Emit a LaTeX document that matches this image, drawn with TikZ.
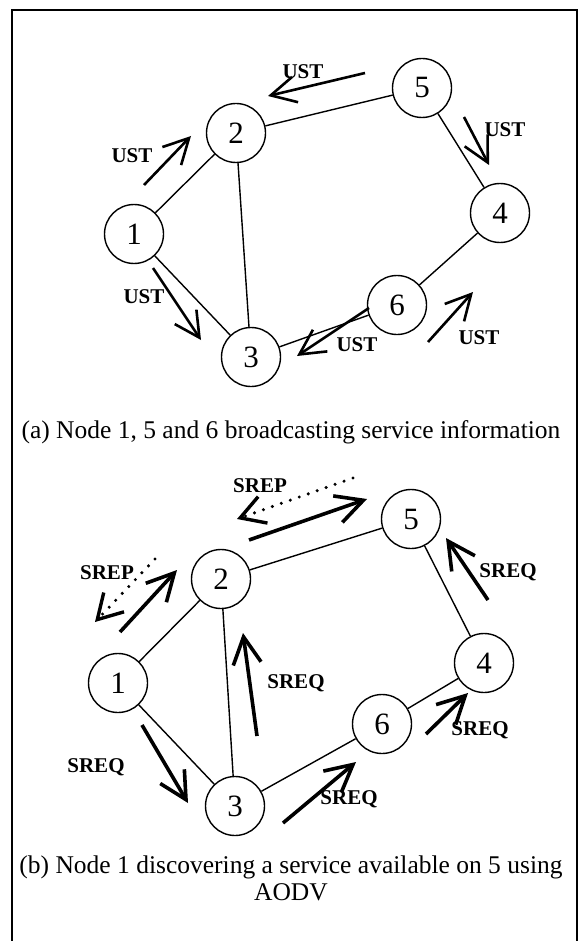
\documentclass[tikz,border=0pt]{standalone}
\usepackage{fontspec}
\setmainfont{Liberation Serif}
\usetikzlibrary{positioning,arrows.meta}

\begin{document}
\begin{tikzpicture}[x=1pt,y=1pt]
    \tikzstyle{station}=[circle,draw,line width=1.4pt,minimum size=59,inner sep=0,fill=white,font=\fontsize{31}{32}\selectfont]
    \tikzstyle{link}=[line width=1.4pt]
    \tikzstyle{note}=[draw=none,inner sep=0,font=\fontsize{21}{23}\selectfont\bfseries]
    \tikzstyle{caption}=[draw=none,inner sep=0,align=center,font=\fontsize{25.5}{27}\selectfont]
    \tikzstyle{msg}=[line width=2.6pt,-{Straight Barb[length=25pt,width=26pt]}]
    \tikzstyle{msgb}=[line width=3.6pt,-{Straight Barb[length=27pt,width=28pt]}]
    \tikzstyle{reply}=[line width=3.4pt,line cap=round,dash pattern=on 0pt off 9.5pt,-{Straight Barb[length=24pt,width=28pt]}]
    {
        \useasboundingbox (0,0) rectangle (579,-941);
        \draw[line width=2pt] (12,-941) -- (12,-10) -- (577,-10) -- (577,-941);

        \foreach \n/\x/\y in {1/134/-234,2/236/-133,3/251/-357,4/500/-213,5/422/-88,6/397/-305} {
            \node[station] (a\n) at (\x,\y) {\n};
        }
        \foreach \n/\x/\y in {1/118/-683,2/221/-579,3/235/-806,4/484/-663,5/411/-519,6/382/-724} {
            \node[station] (b\n) at (\x,\y) {\n};
        }
        \foreach \u/\v in {1/2,1/3,2/3,2/5,5/4,4/6,6/3} {
            \draw[link] (a\u) -- (a\v);
            \draw[link] (b\u) -- (b\v);
        }

        \draw[msg] (144,-185) -- (191,-136);
        \draw[msg] (365,-73) -- (268,-96);
        \draw[msg] (464,-117) -- (489,-165);
        \draw[msg] (153,-268) -- (201,-340);
        \draw[msg] (369,-308) -- (297,-356);
        \draw[msg] (428,-342) -- (473,-292);
        \node[note] (ust12) at (132,-156) {UST};
        \node[note] (ust52) at (303,-72) {UST};
        \node[note] (ust54) at (505,-130) {UST};
        \node[note] (ust13) at (144,-297) {UST};
        \node[note] (ust63) at (357,-345) {UST};
        \node[note] (ust64) at (479,-338) {UST};
        \node[caption] (capa) at (291,-432) {(a) Node 1, 5 and 6 broadcasting service information};

        \draw[msgb] (249,-540) -- (367,-499);
        \draw[reply] (353,-478) -- (237,-519);
        \draw[reply] (155,-559) -- (95,-622);
        \draw[msgb] (120,-632) -- (177,-570);
        \draw[msgb] (257,-736) -- (243,-633);
        \draw[msgb] (488,-600) -- (446,-538);
        \draw[msgb] (142,-725) -- (188,-803);
        \draw[msgb] (283,-823) -- (356,-762);
        \draw[msgb] (426,-734) -- (468,-693);
        \node[note] (srep52) at (260,-486) {SREP};
        \node[note] (srep21) at (107,-573) {SREP};
        \node[note] (sreq32) at (296,-683) {SREQ};
        \node[note] (sreq45) at (508,-572) {SREQ};
        \node[note] (sreq13) at (96,-767) {SREQ};
        \node[note] (sreq36) at (349,-799) {SREQ};
        \node[note] (sreq64) at (480,-730) {SREQ};
        \node[caption] (capb) at (291,-878) {(b) Node 1 discovering a service available on 5 using\\AODV};
    }
\end{tikzpicture}
\end{document}
